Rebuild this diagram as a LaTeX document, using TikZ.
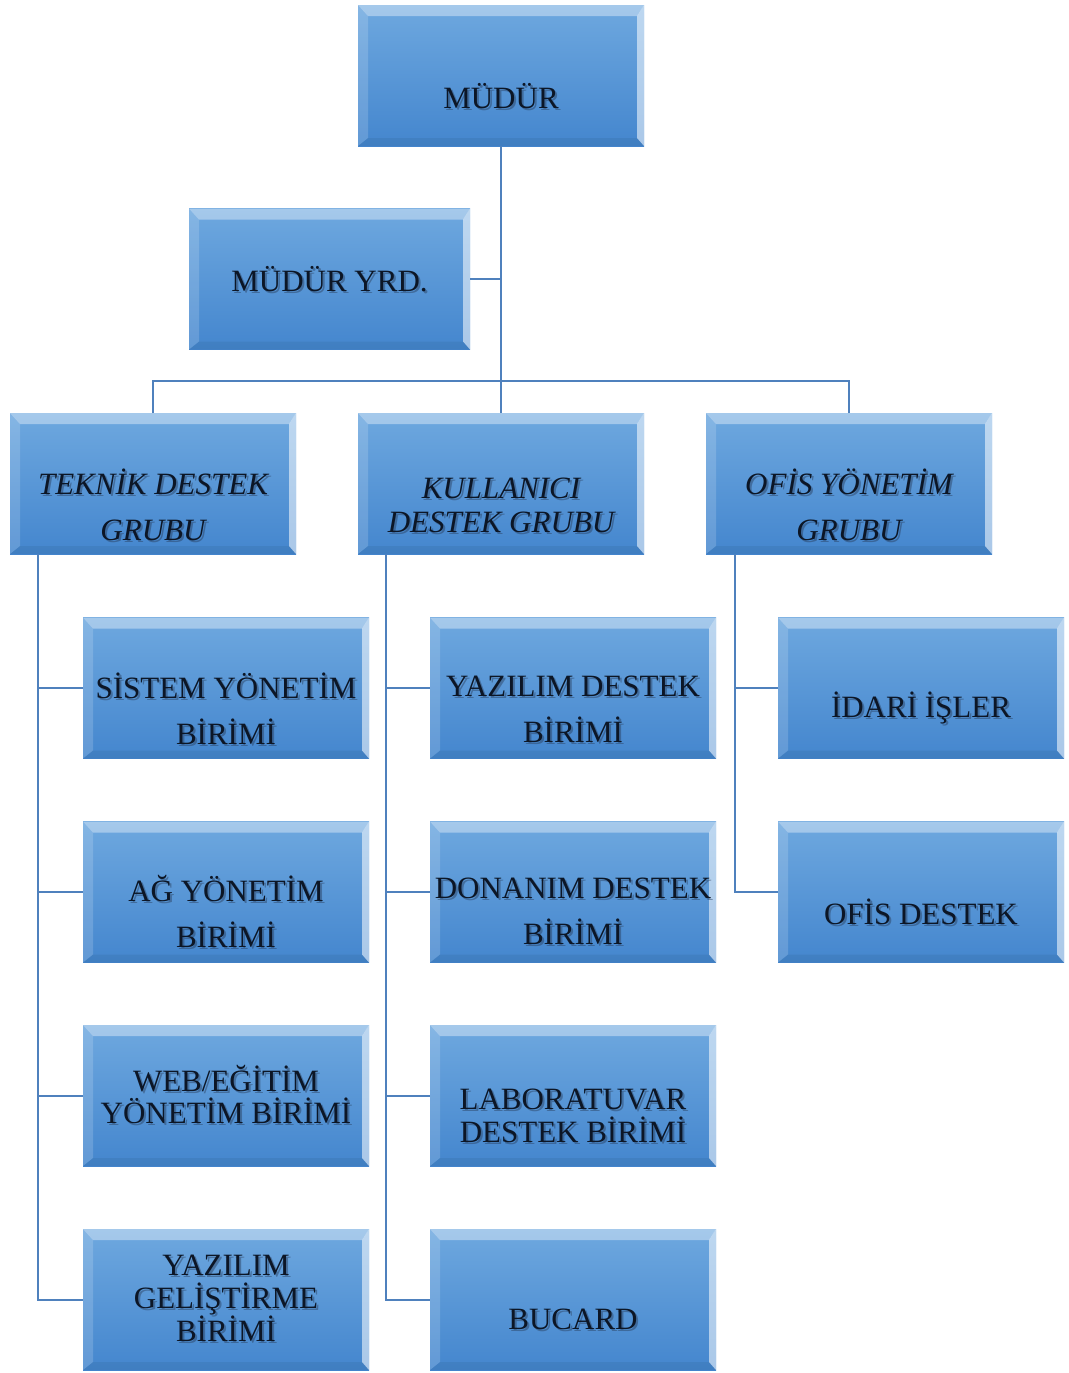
\documentclass[tikz,border=0pt]{standalone}
\usepackage{fontspec}
\setmainfont{Liberation Serif}
\usetikzlibrary{calc}
\definecolor{linec}{RGB}{79,129,189}
\definecolor{boxtop}{RGB}{110,168,223}
\definecolor{boxbot}{RGB}{68,134,206}
\definecolor{txtc}{RGB}{12,22,38}
\definecolor{shadowc}{RGB}{40,60,90}
\tikzset{
  unit/.style={minimum width=286pt, minimum height=141pt, inner sep=0pt, outer sep=0pt,
    top color=boxtop, bottom color=boxbot, draw=none,
    path picture={
      \coordinate (NW) at (path picture bounding box.north west);
      \coordinate (NE) at (path picture bounding box.north east);
      \coordinate (SW) at (path picture bounding box.south west);
      \coordinate (SE) at (path picture bounding box.south east);
      \fill[white,opacity=.38] (NW) -- (NE) -- ($(NE)+(-7,11)$) -- ($(NW)+(10,11)$) -- cycle;
      \fill[white,opacity=.16] (NW) -- ($(NW)+(10,11)$) -- ($(SW)+(10,-8)$) -- (SW) -- cycle;
      \fill[white,opacity=.55] (NE) -- (SE) -- ($(SE)+(-7,-8)$) -- ($(NE)+(-7,11)$) -- cycle;
      \fill[black,opacity=.06] (SW) -- ($(SW)+(10,-8)$) -- ($(SE)+(-7,-8)$) -- (SE) -- cycle;
    }},
  conn/.style={draw=linec, line width=2pt},
  lbl/.style={align=center, text=txtc, inner sep=0pt},
  lblshadow/.style={align=center, text=shadowc, opacity=.45, inner sep=0pt},
}
\newcommand\boxtext[5][]{%
  \node[lblshadow, font=\fontsize{31}{#4}\selectfont#1] (#2-s) at ($(#2.center)+(2,{#3+2})$) {#5};
  \node[lbl, font=\fontsize{31}{#4}\selectfont#1] (#2-t) at ($(#2.center)+(0,#3)$) {#5};
}
\begin{document}
\begin{tikzpicture}[x=1pt,y=-1pt]
\useasboundingbox (0,0) rectangle (1068,1373);
% boxes
\node[unit] (m) at (501,75.5) {};
\node[unit, minimum width=281pt] (y) at (329.5,279) {};
\node[unit] (t) at (153,483.5) {};
\node[unit] (k) at (501,483.5) {};
\node[unit] (o) at (849,483.5) {};
\node[unit] (s1) at (226,688) {};
\node[unit] (s2) at (226,892) {};
\node[unit] (s3) at (226,1095.5) {};
\node[unit] (s4) at (226,1299.5) {};
\node[unit] (u1) at (573,688) {};
\node[unit] (u2) at (573,892) {};
\node[unit] (u3) at (573,1095.5) {};
\node[unit] (u4) at (573,1299.5) {};
\node[unit] (f1) at (921,688) {};
\node[unit] (f2) at (921,892) {};
% texts
\boxtext{m}{21}{46}{MÜDÜR}
\boxtext{y}{0}{46}{MÜDÜR YRD.}
\boxtext[\itshape]{t}{21}{46}{TEKNİK DESTEK\\GRUBU}
\boxtext[\itshape]{k}{22}{34}{KULLANICI\\DESTEK GRUBU}
\boxtext[\itshape]{o}{21}{46}{OFİS YÖNETİM\\GRUBU}
\boxtext{s1}{21}{46}{SİSTEM YÖNETİM\\BİRİMİ}
\boxtext{s2}{19}{46}{AĞ YÖNETİM\\BİRİMİ}
\boxtext{s3}{-1}{32}{WEB/EĞİTİM\\YÖNETİM BİRİMİ}
\boxtext{s4}{-1}{33}{YAZILIM\\GELİŞTİRME\\BİRİMİ}
\boxtext{u1}{21}{46}{YAZILIM DESTEK\\BİRİMİ}
\boxtext{u2}{19}{46}{DONANIM DESTEK\\BİRİMİ}
\boxtext{u3}{20}{33}{LABORATUVAR\\DESTEK BİRİMİ}
\boxtext{u4}{20}{46}{BUCARD}
\boxtext{f1}{20}{46}{İDARİ İŞLER}
\boxtext{f2}{20}{46}{OFİS DESTEK}
% connectors
\coordinate (j) at (501,381);
\draw[conn] (m.south) -- (j);
\draw[conn] (y.east) -- (y.east -| m.south);
\draw[conn] (t.north) |- (j);
\draw[conn] (o.north) |- (j);
\draw[conn] (k.north) -- (j);
\coordinate (tc) at ($(t.south west)+(28,0)$);
\coordinate (kc) at ($(k.south west)+(28,0)$);
\coordinate (oc) at ($(o.south west)+(29,0)$);
\draw[conn] (tc) |- (s1.west);
\draw[conn] (tc) |- (s2.west);
\draw[conn] (tc) |- (s3.west);
\draw[conn] (tc) |- (s4.west);
\draw[conn] (kc) |- (u1.west);
\draw[conn] (kc) |- (u2.west);
\draw[conn] (kc) |- (u3.west);
\draw[conn] (kc) |- (u4.west);
\draw[conn] (oc) |- (f1.west);
\draw[conn] (oc) |- (f2.west);
\end{tikzpicture}
\end{document}
